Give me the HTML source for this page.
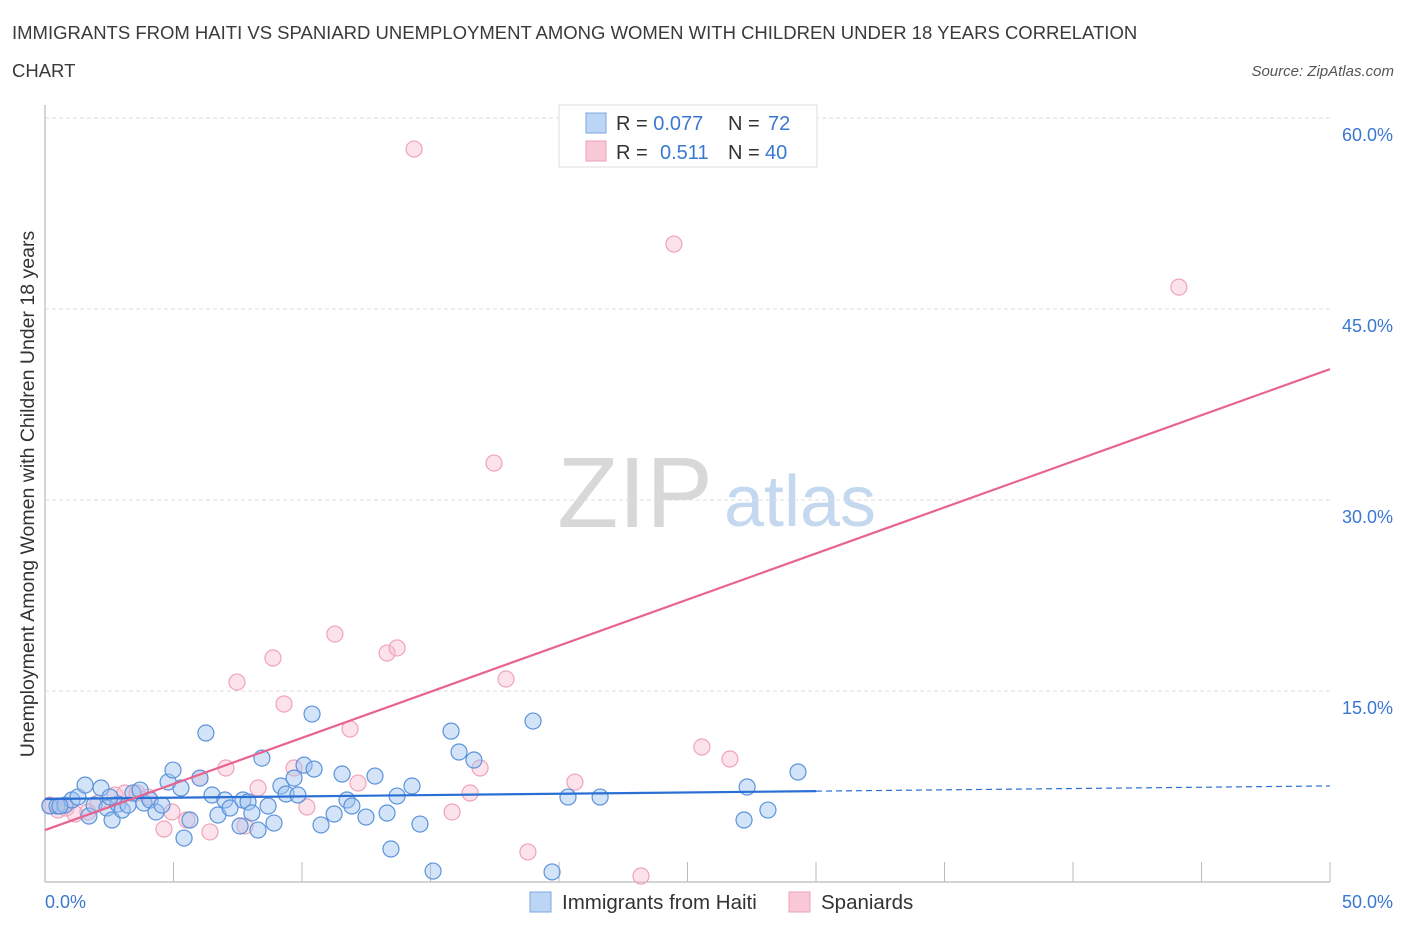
<!DOCTYPE html>
<html><head><meta charset="utf-8"><style>
body{margin:0;background:#fff;font-family:"Liberation Sans",sans-serif;}
svg text{font-family:"Liberation Sans",sans-serif;}
</style></head><body>
<svg id="chart" width="1406" height="930">
<text x="12" y="39" font-size="18.5" fill="#3a3a3a">IMMIGRANTS FROM HAITI VS SPANIARD UNEMPLOYMENT AMONG WOMEN WITH CHILDREN UNDER 18 YEARS CORRELATION</text>
<text x="12" y="77" font-size="18.5" fill="#3a3a3a">CHART</text>
<text x="1394" y="76" font-size="15" fill="#555" font-style="italic" text-anchor="end">Source: ZipAtlas.com</text>
<g>
<text x="635" y="527" font-size="100" fill="#d8d8d8" font-family="Liberation Serif, serif" text-anchor="middle">ZIP</text>
<text x="800" y="526" font-size="72" fill="#c4d8f0" text-anchor="middle">atlas</text>
</g>
<g id="grid"></g>
<g id="axes"></g>
<g id="marks"></g>
<text x="34" y="494" font-size="19.5" fill="#333" text-anchor="middle" transform="rotate(-90 34 494)">Unemployment Among Women with Children Under 18 years</text>
<g>
<rect x="559" y="105" width="258" height="62" fill="#fff" stroke="#ddd"/>
<rect x="586" y="113" width="20" height="20" fill="#bcd5f5" stroke="#7aa8e0"/>
<rect x="586" y="141" width="20" height="20" fill="#f9c8d6" stroke="#eea0b8"/>
<text x="616" y="130" font-size="20" fill="#333">R = <tspan fill="#3a78d0">0.077</tspan><tspan x="728">N = </tspan><tspan x="768" fill="#3a78d0">72</tspan></text>
<text x="616" y="159" font-size="20" fill="#333">R = <tspan x="660" fill="#3a78d0">0.511</tspan><tspan x="728">N = </tspan><tspan x="765" fill="#3a78d0">40</tspan></text>
</g>
<g>
<rect x="530" y="892" width="21" height="20" fill="#bcd5f5" stroke="#7aa8e0"/>
<text x="562" y="909" font-size="20.5" fill="#333">Immigrants from Haiti</text>
<rect x="789" y="892" width="21" height="20" fill="#f9c8d6" stroke="#eea0b8"/>
<text x="821" y="909" font-size="20.5" fill="#333">Spaniards</text>
</g>
</svg>
<script>
const yTicks=[15,30,45,60];
const yTickLabels=["15.0%","30.0%","45.0%","60.0%"];
const xEnds=[0,50];
const xEndLabels=["0.0%","50.0%"];
const haitiX=[0.19,0.47,0.78,1.05,1.28,1.56,1.71,1.91,2.18,2.41,2.61,2.84,3.0,3.23,3.42,3.7,3.85,4.09,4.32,4.55,4.79,4.98,5.29,5.41,5.64,6.03,6.26,6.5,6.73,7.0,7.2,7.59,7.7,7.9,8.05,8.29,8.44,8.68,8.91,9.18,9.38,9.69,9.84,10.08,10.39,10.47,10.74,11.25,11.56,11.75,11.94,12.49,12.84,13.31,13.46,13.7,14.28,14.59,15.1,15.8,16.11,16.69,18.99,19.73,20.35,21.6,27.2,27.32,28.13,29.3,0.58,2.53];
const haitiY=[5.97,5.97,6.04,6.44,6.67,7.61,5.18,6.04,7.38,5.81,4.87,6.12,5.65,6.04,6.99,7.22,6.2,6.44,5.5,6.04,7.85,8.79,7.38,3.45,4.87,8.16,11.7,6.83,5.26,6.44,5.81,4.4,6.44,6.28,5.42,4.08,9.73,5.97,4.63,7.54,6.91,8.16,6.83,9.18,13.19,8.87,4.48,5.34,8.48,6.44,5.97,5.1,8.32,5.42,2.59,6.75,7.54,4.55,0.86,11.85,10.21,9.58,12.64,0.79,6.67,6.67,4.87,7.46,5.65,8.64,5.97,6.67];
const spainX=[0.19,0.51,0.82,1.17,1.67,2.06,2.72,3.11,3.58,4.01,4.63,4.94,5.52,6.03,6.42,7.04,7.47,7.78,8.29,8.87,9.3,9.69,10.19,11.28,11.87,12.18,13.31,13.7,14.36,15.84,16.54,16.93,17.47,17.94,18.79,20.62,23.19,24.47,25.56,26.65,44.12];
const spainY=[6.04,5.65,5.81,5.34,5.5,6.2,6.83,6.99,6.99,6.67,4.16,5.5,4.87,8.16,3.93,8.95,15.7,4.4,7.38,17.59,13.98,8.95,5.89,19.47,12.01,7.77,17.98,18.38,57.56,5.5,6.99,8.95,32.9,15.94,2.36,7.85,0.47,50.1,10.6,9.66,46.72];
const haitiTrend=[6.52,0.0205]; // intercept, slope
const spainTrend=[4.08,0.724];
const haitiDataMaxX=30;

const X=v=>45+v*(1285/50);
const Y=v=>882-v*(191/15);
const NS="http://www.w3.org/2000/svg";
function mk(parent,tag,attrs){const e=document.createElementNS(NS,tag);for(const k in attrs)e.setAttribute(k,attrs[k]);parent.appendChild(e);return e;}
const grid=document.getElementById('grid'),axes=document.getElementById('axes'),marks=document.getElementById('marks');
yTicks.forEach((t,i)=>{
 const l=mk(grid,'line',{x1:45,x2:1330,y1:Y(t),y2:Y(t),stroke:'#ddd','stroke-dasharray':'4,3'});
 
 
 const tx=mk(axes,'text',{x:1393,y:Y(t)+23,'font-size':18,fill:'#3a78d0','text-anchor':'end'});
 tx.textContent=yTickLabels[i];
 
 
});
const ax=mk(axes,'line',{x1:45,x2:45,y1:105,y2:882,stroke:'#aaa'});


const bx=mk(axes,'line',{x1:45,x2:1330,y1:882,y2:882,stroke:'#aaa'});


for(let i=1;i<=10;i++){
 const tk=mk(axes,'line',{x1:X(i*5),x2:X(i*5),y1:862,y2:882,stroke:'#bbb'});
 
 
}
xEnds.forEach((v,i)=>{
 const tx=mk(axes,'text',{x:i==0?X(v):X(v)+63,y:908,'font-size':18,fill:'#3a78d0','text-anchor':i==0?'start':'end'});
 tx.textContent=xEndLabels[i];
 
 
});
spainX.forEach((x,i)=>{
 const c=mk(marks,'circle',{cx:X(x),cy:Y(spainY[i]),r:8,fill:'rgba(248,185,205,0.4)',stroke:'#f0a3bb','stroke-width':1.2});
 
 
});
haitiX.forEach((x,i)=>{
 const c=mk(marks,'circle',{cx:X(x),cy:Y(haitiY[i]),r:8,fill:'rgba(160,196,240,0.45)',stroke:'#5b93db','stroke-width':1.2});
 
 
});
const ht=mk(marks,'line',{x1:X(0),y1:Y(haitiTrend[0]),x2:X(haitiDataMaxX),y2:Y(haitiTrend[0]+haitiTrend[1]*haitiDataMaxX),stroke:'#2a6fd4','stroke-width':2.2});


const hd=mk(marks,'line',{x1:X(haitiDataMaxX),y1:Y(haitiTrend[0]+haitiTrend[1]*haitiDataMaxX),x2:X(50),y2:Y(haitiTrend[0]+haitiTrend[1]*50),stroke:'#2a6fd4','stroke-width':1.2,'stroke-dasharray':'6,4'});


const st=mk(marks,'line',{x1:X(0),y1:Y(spainTrend[0]),x2:X(50),y2:Y(spainTrend[0]+spainTrend[1]*50),stroke:'#e8648e','stroke-width':2.2});


</script>
</body></html>
